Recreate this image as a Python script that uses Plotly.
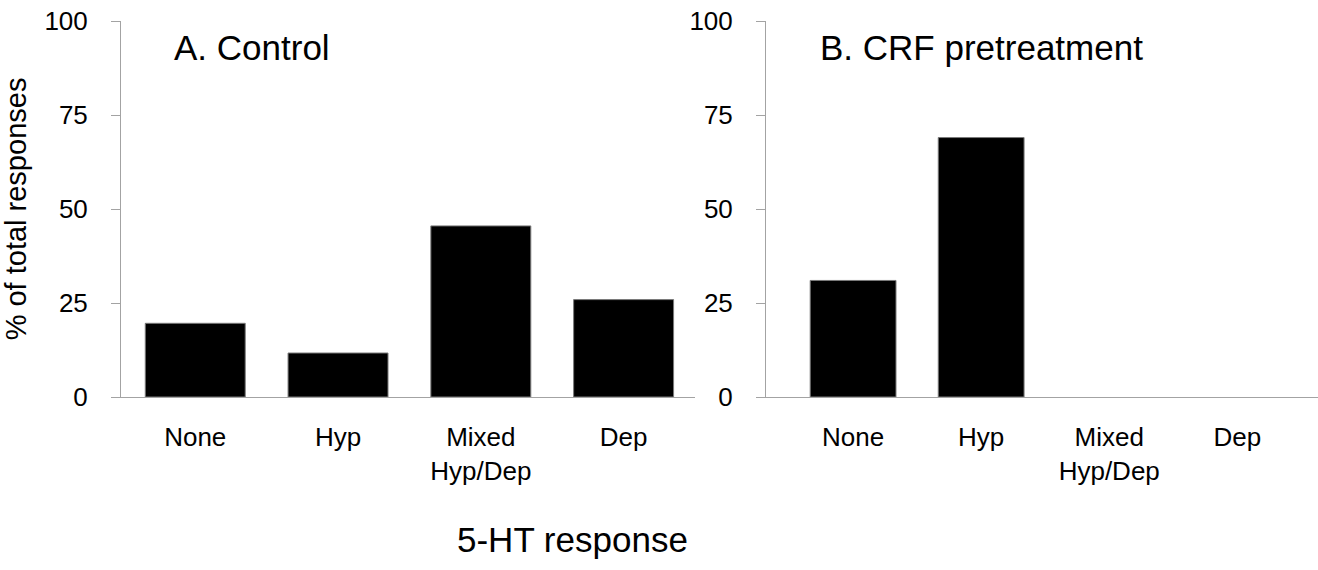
import plotly.graph_objects as go

categories = ["None", "Hyp", "Mixed<br>Hyp/Dep", "Dep"]
control_pct = [19.6, 11.7, 45.5, 25.9]
crf_pct = [31.0, 69.0, 0.0, 0.0]
y_ticks = [0, 25, 50, 75, 100]

FONT = "Liberation Sans, Arial, sans-serif"
AX_COLOR = "#a3a3a3"


def outline(values):
    return dict(color="#7a7a7a", width=[1 if v > 0 else 0 for v in values])


fig = go.Figure()
fig.add_trace(go.Bar(x=categories, y=control_pct, xaxis="x", yaxis="y",
                     marker=dict(color="black", line=outline(control_pct)),
                     width=0.7, showlegend=False))
fig.add_trace(go.Bar(x=categories, y=crf_pct, xaxis="x2", yaxis="y2",
                     marker=dict(color="black", line=outline(crf_pct)),
                     width=0.67, showlegend=False))

xcommon = dict(type="category", showline=True, linecolor=AX_COLOR, linewidth=1,
               ticks="", showgrid=False, zeroline=False,
               tickfont=dict(family=FONT, size=26, color="black"),
               ticklabelstandoff=17)
ycommon = dict(range=[0, 100], tickvals=y_ticks, showline=True, linecolor=AX_COLOR,
               linewidth=1, ticks="outside", ticklen=9, tickcolor=AX_COLOR,
               showgrid=False, zeroline=False,
               tickfont=dict(family=FONT, size=26, color="black"),
               ticklabelstandoff=18)

fig.update_layout(
    width=1318, height=570,
    margin=dict(l=0, r=0, t=21, b=173),
    paper_bgcolor="white", plot_bgcolor="white",
    bargap=0.3,
    xaxis=dict(domain=[121/1318, 695/1318], range=[-0.52, 3.5], anchor="y", **xcommon),
    yaxis=dict(domain=[0, 1], anchor="x",
               title=dict(text="% of total responses",
                          font=dict(family=FONT, size=29, color="black"), standoff=12),
               **ycommon),
    xaxis2=dict(domain=[766/1318, 1.0], range=[-0.68, 3.63], anchor="y2", **xcommon),
    yaxis2=dict(domain=[0, 1], anchor="x2", **ycommon),
    annotations=[
        dict(text="A. Control", x=172/1318, y=0.93, xref="paper", yref="paper",
             xanchor="left", yanchor="middle", showarrow=False,
             font=dict(family=FONT, size=35, color="black")),
        dict(text="B. CRF pretreatment", x=818/1318, y=0.93, xref="paper", yref="paper",
             xanchor="left", yanchor="middle", showarrow=False,
             font=dict(family=FONT, size=35, color="black")),
        dict(text="5-HT response", x=572/1318, y=-0.38, xref="paper", yref="paper",
             xanchor="center", yanchor="middle", showarrow=False,
             font=dict(family=FONT, size=35, color="black")),
    ],
)

fig.write_html("out.html")
